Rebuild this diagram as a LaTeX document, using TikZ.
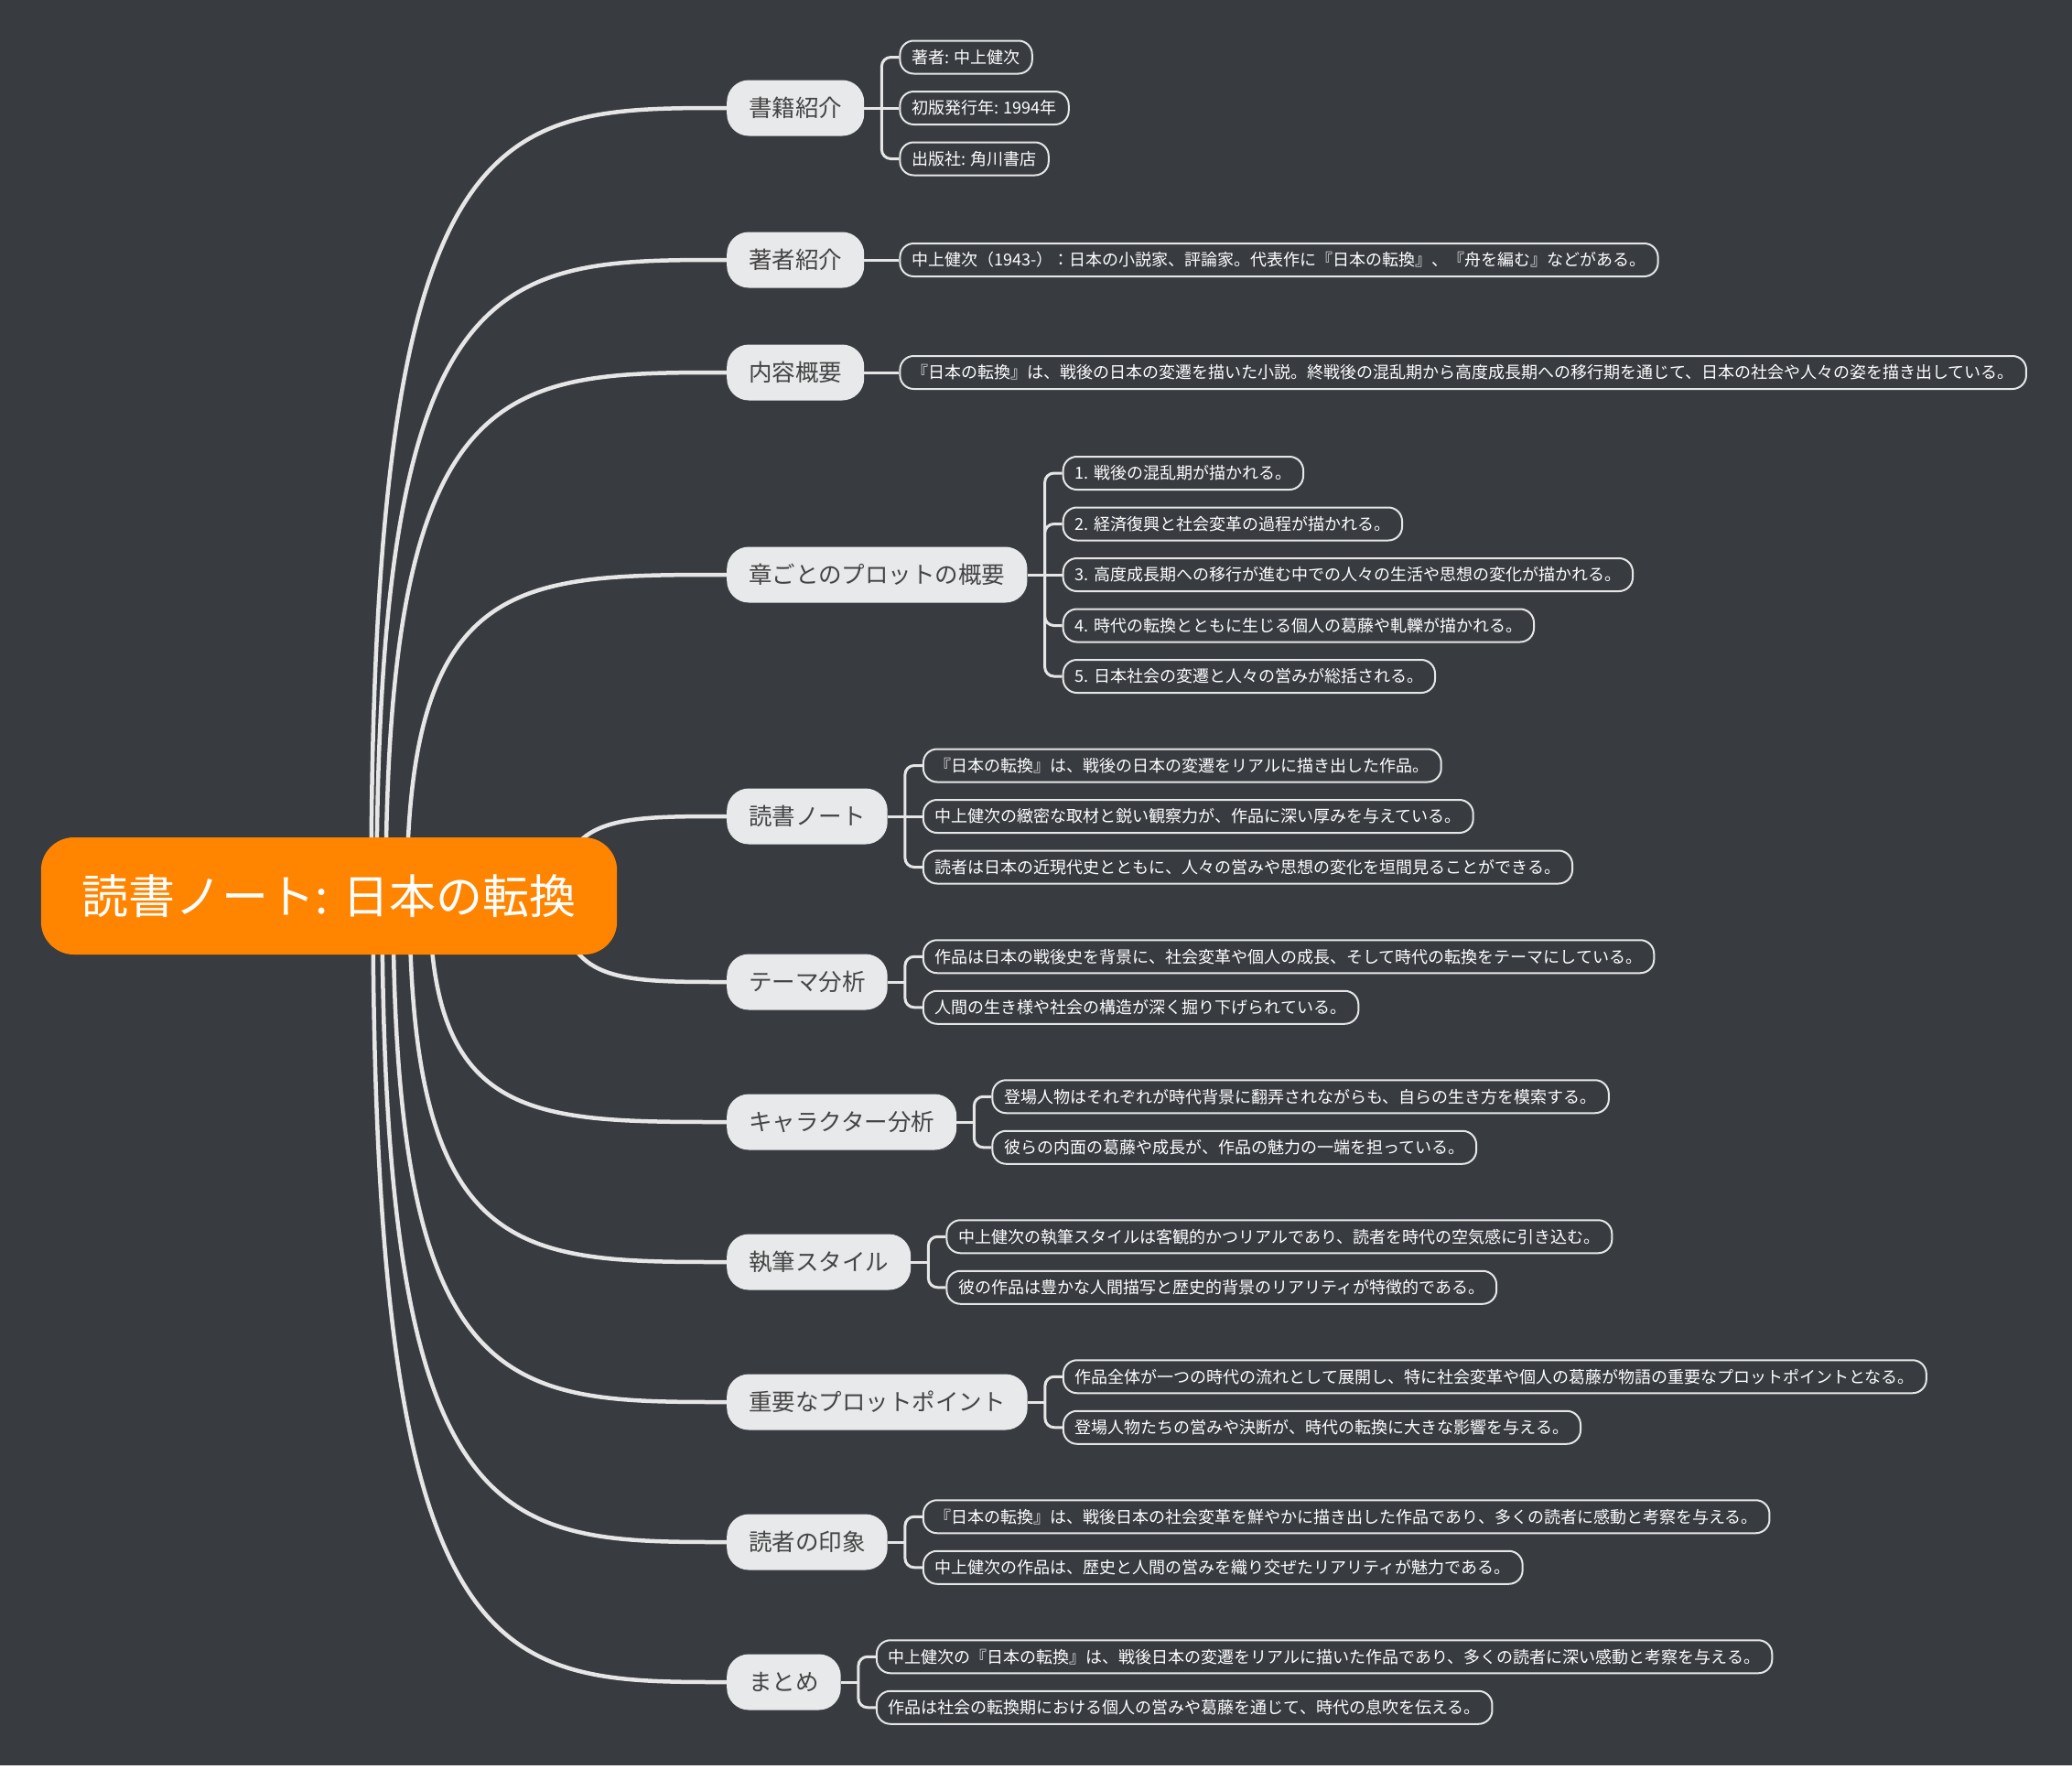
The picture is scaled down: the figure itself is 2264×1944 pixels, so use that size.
\documentclass[tikz,border=0pt]{standalone}
\usepackage{fontspec}
\setmainfont{Noto Sans CJK JP}
\usepackage{tikz}
\usetikzlibrary{positioning,calc,backgrounds}
\definecolor{bgdark}{HTML}{383B40}
\definecolor{rootorange}{HTML}{FF8400}
\definecolor{topicgray}{HTML}{E8E9EB}
\definecolor{topictext}{HTML}{444444}
\definecolor{linegray}{HTML}{E6E6E6}
\tikzset{
  rootbox/.style={fill=rootorange, text=white, rounded corners=36pt, minimum height=128pt, inner xsep=45pt, inner ysep=0pt, font=\fontsize{51}{60}\selectfont},
  topicbox/.style={fill=topicgray, text=topictext, rounded corners=24pt, minimum height=61pt, inner xsep=24pt, inner ysep=0pt, anchor=west, font=\fontsize{25.5}{30}\selectfont},
  leafbox/.style={draw=linegray, line width=2pt, fill=bgdark, text=white, rounded corners=15pt, minimum height=36pt, inner xsep=13pt, inner ysep=0pt, font=\fontsize{18}{22}\selectfont},
  mainline/.style={draw=linegray, line width=4.5pt},
  leafline/.style={draw=linegray, line width=3pt, rounded corners=10pt}
}

\begin{document}
\begin{tikzpicture}[x=1pt,y=-1pt]
  \useasboundingbox (0,0) rectangle (2264,1944);
  \node[rootbox] (root) at (359.5,979) {読書ノート: 日本の転換};

  \node[topicbox] (b1) at (794,118) {書籍紹介};
  \node[topicbox] (b2) at (794,284) {著者紹介};
  \node[topicbox] (b3) at (794,407) {内容概要};
  \node[topicbox] (b4) at (794,628) {章ごとのプロットの概要};
  \node[topicbox] (b5) at (794,892) {読書ノート};
  \node[topicbox] (b6) at (794,1073) {テーマ分析};
  \node[topicbox] (b7) at (794,1226) {キャラクター分析};
  \node[topicbox] (b8) at (794,1379) {執筆スタイル};
  \node[topicbox] (b9) at (794,1532) {重要なプロットポイント};
  \node[topicbox] (b10) at (794,1685) {読者の印象};
  \node[topicbox] (b11) at (794,1838) {まとめ};

  \node[leafbox, right=38pt of b1] (l1b) {初版発行年: 1994年};
  \node[leafbox, above=17.5pt of l1b.north west, anchor=south west] (l1a) {著者: 中上健次};
  \node[leafbox, below=17.5pt of l1b.south west, anchor=north west] (l1c) {出版社: 角川書店};

  \node[leafbox, right=38pt of b2] (l2a) {中上健次（1943-）：日本の小説家、評論家。代表作に『日本の転換』、『舟を編む』などがある。};

  \node[leafbox, right=38pt of b3] (l3a) {『日本の転換』は、戦後の日本の変遷を描いた小説。終戦後の混乱期から高度成長期への移行期を通じて、日本の社会や人々の姿を描き出している。};

  \node[leafbox, right=38pt of b4] (l4c) {3. 高度成長期への移行が進む中での人々の生活や思想の変化が描かれる。};
  \node[leafbox, above=17.5pt of l4c.north west, anchor=south west] (l4b) {2. 経済復興と社会変革の過程が描かれる。};
  \node[leafbox, above=17.5pt of l4b.north west, anchor=south west] (l4a) {1. 戦後の混乱期が描かれる。};
  \node[leafbox, below=17.5pt of l4c.south west, anchor=north west] (l4d) {4. 時代の転換とともに生じる個人の葛藤や軋轢が描かれる。};
  \node[leafbox, below=17.5pt of l4d.south west, anchor=north west] (l4e) {5. 日本社会の変遷と人々の営みが総括される。};

  \node[leafbox, right=38pt of b5] (l5b) {中上健次の緻密な取材と鋭い観察力が、作品に深い厚みを与えている。};
  \node[leafbox, above=17.5pt of l5b.north west, anchor=south west] (l5a) {『日本の転換』は、戦後の日本の変遷をリアルに描き出した作品。};
  \node[leafbox, below=17.5pt of l5b.south west, anchor=north west] (l5c) {読者は日本の近現代史とともに、人々の営みや思想の変化を垣間見ることができる。};

  \node[leafbox, above right=8.75pt and 38pt of b6.east] (l6a) {作品は日本の戦後史を背景に、社会変革や個人の成長、そして時代の転換をテーマにしている。};
  \node[leafbox, below=17.5pt of l6a.south west, anchor=north west] (l6b) {人間の生き様や社会の構造が深く掘り下げられている。};

  \node[leafbox, above right=8.75pt and 38pt of b7.east] (l7a) {登場人物はそれぞれが時代背景に翻弄されながらも、自らの生き方を模索する。};
  \node[leafbox, below=17.5pt of l7a.south west, anchor=north west] (l7b) {彼らの内面の葛藤や成長が、作品の魅力の一端を担っている。};

  \node[leafbox, above right=8.75pt and 38pt of b8.east] (l8a) {中上健次の執筆スタイルは客観的かつリアルであり、読者を時代の空気感に引き込む。};
  \node[leafbox, below=17.5pt of l8a.south west, anchor=north west] (l8b) {彼の作品は豊かな人間描写と歴史的背景のリアリティが特徴的である。};

  \node[leafbox, above right=8.75pt and 38pt of b9.east] (l9a) {作品全体が一つの時代の流れとして展開し、特に社会変革や個人の葛藤が物語の重要なプロットポイントとなる。};
  \node[leafbox, below=17.5pt of l9a.south west, anchor=north west] (l9b) {登場人物たちの営みや決断が、時代の転換に大きな影響を与える。};

  \node[leafbox, above right=8.75pt and 38pt of b10.east] (l10a) {『日本の転換』は、戦後日本の社会変革を鮮やかに描き出した作品であり、多くの読者に感動と考察を与える。};
  \node[leafbox, below=17.5pt of l10a.south west, anchor=north west] (l10b) {中上健次の作品は、歴史と人間の営みを織り交ぜたリアリティが魅力である。};

  \node[leafbox, above right=8.75pt and 38pt of b11.east] (l11a) {中上健次の『日本の転換』は、戦後日本の変遷をリアルに描いた作品であり、多くの読者に深い感動と考察を与える。};
  \node[leafbox, below=17.5pt of l11a.south west, anchor=north west] (l11b) {作品は社会の転換期における個人の営みや葛藤を通じて、時代の息吹を伝える。};

  \coordinate (s1) at ([xshift=46pt]root.center);
  \coordinate (s2) at ([xshift=52pt]root.center);
  \coordinate (s3) at ([xshift=62pt]root.center);
  \coordinate (s4) at ([xshift=85pt]root.center);
  \coordinate (s5) at ([xshift=255pt]root.center);
  \coordinate (s6) at ([xshift=255pt]root.center);
  \coordinate (s7) at ([xshift=110pt]root.center);
  \coordinate (s8) at ([xshift=88pt]root.center);
  \coordinate (s9) at ([xshift=70pt]root.center);
  \coordinate (s10) at ([xshift=58pt]root.center);
  \coordinate (s11) at ([xshift=48pt]root.center);

  \begin{scope}[on background layer]
    \fill[bgdark] (0,0) rectangle (2264,1929);
    \draw[mainline] (s1) .. controls (s1 |- b1.west) and ($(s1 |- b1.west)!.35!(b1.west)$) .. (b1.west);
    \draw[mainline] (s2) .. controls (s2 |- b2.west) and ($(s2 |- b2.west)!.35!(b2.west)$) .. (b2.west);
    \draw[mainline] (s3) .. controls (s3 |- b3.west) and ($(s3 |- b3.west)!.35!(b3.west)$) .. (b3.west);
    \draw[mainline] (s4) .. controls (s4 |- b4.west) and ($(s4 |- b4.west)!.35!(b4.west)$) .. (b4.west);
    \draw[mainline] (s5) .. controls (s5 |- b5.west) and ($(s5 |- b5.west)!.35!(b5.west)$) .. (b5.west);
    \draw[mainline] (s6) .. controls (s6 |- b6.west) and ($(s6 |- b6.west)!.35!(b6.west)$) .. (b6.west);
    \draw[mainline] (s7) .. controls (s7 |- b7.west) and ($(s7 |- b7.west)!.35!(b7.west)$) .. (b7.west);
    \draw[mainline] (s8) .. controls (s8 |- b8.west) and ($(s8 |- b8.west)!.35!(b8.west)$) .. (b8.west);
    \draw[mainline] (s9) .. controls (s9 |- b9.west) and ($(s9 |- b9.west)!.35!(b9.west)$) .. (b9.west);
    \draw[mainline] (s10) .. controls (s10 |- b10.west) and ($(s10 |- b10.west)!.35!(b10.west)$) .. (b10.west);
    \draw[mainline] (s11) .. controls (s11 |- b11.west) and ($(s11 |- b11.west)!.35!(b11.west)$) .. (b11.west);
  \end{scope}

  \draw[leafline] (b1.east) -- ++(19,0) coordinate (j1);
  \draw[leafline] (j1) |- (l1a.west);
  \draw[leafline] (j1) -- (l1b.west);
  \draw[leafline] (j1) |- (l1c.west);
  \draw[leafline] (b2.east) -- (l2a.west);
  \draw[leafline] (b3.east) -- (l3a.west);
  \draw[leafline] (b4.east) -- ++(19,0) coordinate (j4);
  \draw[leafline] (j4) |- (l4a.west);
  \draw[leafline] (j4) |- (l4b.west);
  \draw[leafline] (j4) -- (l4c.west);
  \draw[leafline] (j4) |- (l4d.west);
  \draw[leafline] (j4) |- (l4e.west);
  \draw[leafline] (b5.east) -- ++(19,0) coordinate (j5);
  \draw[leafline] (j5) |- (l5a.west);
  \draw[leafline] (j5) -- (l5b.west);
  \draw[leafline] (j5) |- (l5c.west);
  \draw[leafline] (b6.east) -- ++(19,0) coordinate (j6);
  \draw[leafline] (j6) |- (l6a.west);
  \draw[leafline] (j6) |- (l6b.west);
  \draw[leafline] (b7.east) -- ++(19,0) coordinate (j7);
  \draw[leafline] (j7) |- (l7a.west);
  \draw[leafline] (j7) |- (l7b.west);
  \draw[leafline] (b8.east) -- ++(19,0) coordinate (j8);
  \draw[leafline] (j8) |- (l8a.west);
  \draw[leafline] (j8) |- (l8b.west);
  \draw[leafline] (b9.east) -- ++(19,0) coordinate (j9);
  \draw[leafline] (j9) |- (l9a.west);
  \draw[leafline] (j9) |- (l9b.west);
  \draw[leafline] (b10.east) -- ++(19,0) coordinate (j10);
  \draw[leafline] (j10) |- (l10a.west);
  \draw[leafline] (j10) |- (l10b.west);
  \draw[leafline] (b11.east) -- ++(19,0) coordinate (j11);
  \draw[leafline] (j11) |- (l11a.west);
  \draw[leafline] (j11) |- (l11b.west);
\end{tikzpicture}
\end{document}
